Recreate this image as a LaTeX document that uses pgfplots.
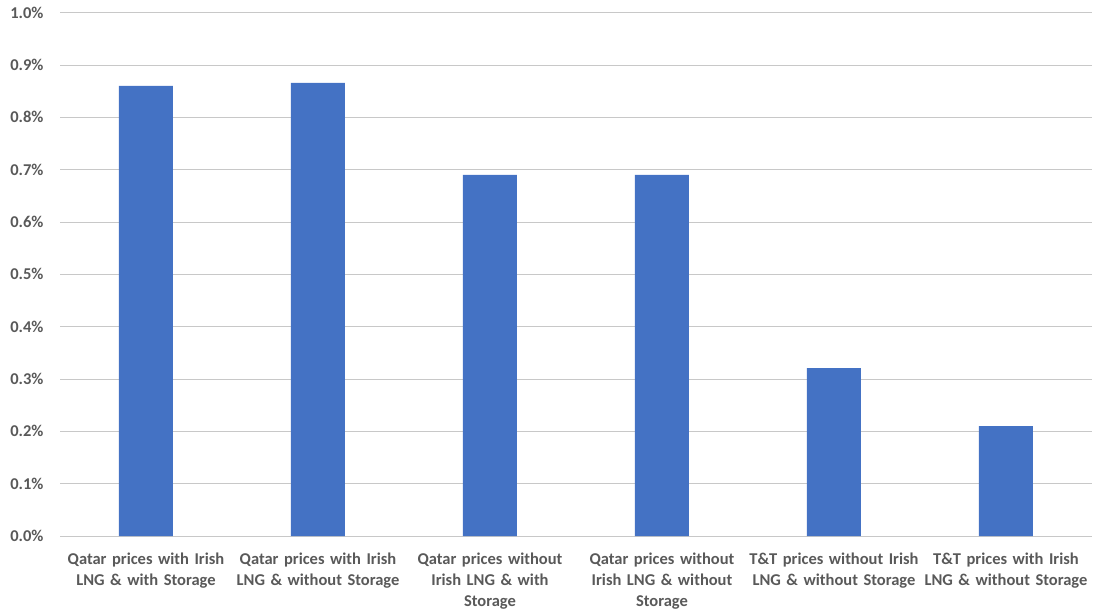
\documentclass[border=0pt]{standalone}
\usepackage{pgfplots}
\pgfplotsset{compat=1.18}
\usepackage{fontspec}
\setmainfont{Carlito}
\definecolor{barblue}{HTML}{4472C4}
\definecolor{gridgray}{HTML}{C8C8C8}
\definecolor{txtgray}{HTML}{595959}
\begin{document}
\begin{tikzpicture}
\path[use as bounding box] (0,0) rectangle (1096bp,611bp);
\begin{axis}[
  at={(60bp,75bp)}, anchor=south west,
  scale only axis,
  width=1032bp, height=523.3bp,
  xmin=-0.5, xmax=5.5,
  ymin=0, ymax=1.0,
  ytick={0,0.1,...,1.0},
  yticklabel={\pgfmathprintnumber[fixed,fixed zerofill,precision=1]{\tick}\%},
  /pgf/number format/assume math mode=true,
  xtick=data,
  xticklabels={
    {Qatar prices with Irish\\LNG \& with Storage},
    {Qatar prices with Irish\\LNG \& without Storage},
    {Qatar prices without\\Irish LNG \& with\\Storage},
    {Qatar prices without\\Irish LNG \& without\\Storage},
    {T\&T prices without Irish\\LNG \& without Storage},
    {T\&T prices with Irish\\LNG \& without Storage}},
  xticklabel style={align=center, text width=200bp, font=\fontsize{16.5bp}{21bp}\selectfont\bfseries, text=txtgray, yshift=-13bp},
  yticklabel style={font=\fontsize{16.5bp}{17bp}\selectfont\bfseries, text=txtgray, xshift=-13bp},
  major tick length=0pt,
  ymajorgrids,
  grid style={gridgray, line width=1bp},
  axis x line*=bottom,
  axis y line*=left,
  x axis line style={draw=gridgray, line width=1bp, -},
  y axis line style={draw=none},
  ybar, bar width=54bp,
  clip=false,
]
\addplot[fill=barblue, draw=none] coordinates {
  (0,0.860) (1,0.866) (2,0.690) (3,0.690) (4,0.321) (5,0.210)};
\end{axis}
\end{tikzpicture}
\end{document}
